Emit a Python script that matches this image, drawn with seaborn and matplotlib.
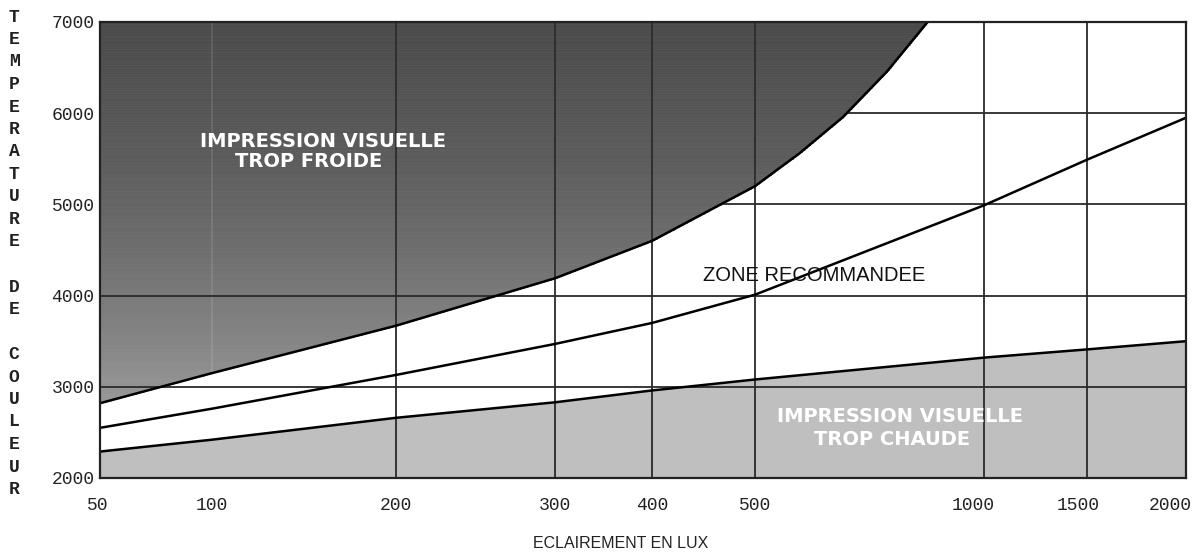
import numpy as np
import matplotlib
matplotlib.use("Agg")
import matplotlib.pyplot as plt
import seaborn as sns
from matplotlib.transforms import ScaledTranslation

# ---------------- data ----------------
lux_ticks = [50, 100, 200, 300, 400, 500, 1000, 1500, 2000]
lux_tick_labels = ["50", "100", "200", "300", "400", "500", "1000", "1500", "2000"]
kelvin_ticks = [2000, 3000, 4000, 5000, 6000, 7000]
kelvin_tick_labels = ["2000", "3000", "4000", "5000", "6000", "7000"]

# lower limit (below: "trop chaude")
warm_lux = [50, 100, 200, 300, 400, 500, 1000, 1500, 2000]
warm_k = [2290, 2420, 2660, 2830, 2960, 3080, 3320, 3410, 3500]
# middle line
mid_lux = [50, 100, 200, 300, 400, 500, 1000, 1500, 2000]
mid_k = [2550, 2760, 3130, 3470, 3700, 4010, 4990, 5490, 5950]
# upper limit (above: "trop froide")
cold_lux = [50, 100, 200, 300, 400, 500, 572, 653, 746, 843]
cold_k = [2820, 3150, 3670, 4190, 4600, 5200, 5560, 5960, 6460, 7000]

# the printed lux axis is not a regular scale: relative spacing of its ticks
axis_stops = [0, 112, 296, 455, 552, 655, 884, 987, 1086]

# ---------------- scale ----------------
LOG_T = np.log10(lux_ticks)
STOPS = np.asarray(axis_stops, float)


def _interp(v, xp, fp):
    v = np.asarray(v, float)
    out = np.interp(v, xp, fp)
    lo_slope = (fp[1] - fp[0]) / (xp[1] - xp[0])
    hi_slope = (fp[-1] - fp[-2]) / (xp[-1] - xp[-2])
    out = np.where(v < xp[0], fp[0] + (v - xp[0]) * lo_slope, out)
    out = np.where(v > xp[-1], fp[-1] + (v - xp[-1]) * hi_slope, out)
    return out


def fwd(x):
    x = np.asarray(x, float)
    with np.errstate(divide="ignore", invalid="ignore"):
        lx = np.log10(np.where(x > 0, x, 1e-9))
    return _interp(lx, LOG_T, STOPS)


def inv(p):
    return 10 ** _interp(p, STOPS, LOG_T)


# ---------------- fonts ----------------
sans = "Liberation Sans"
mono = "Liberation Mono"
boldf = "DejaVu Sans"

sns.set_style("white")
plt.rcParams["font.family"] = ["DejaVu Sans"]

fig = plt.figure(figsize=(12.02, 5.55), dpi=100)
W, H = 1202, 555
ax = fig.add_axes([100 / W, 1 - 478 / H, 1086 / W, (478 - 22) / H])
ax.set_xscale("function", functions=(fwd, inv))
ax.set_xlim(50, 2000)
ax.set_ylim(2000, 7000)

# dense curves for the fills (piecewise linear in the axis' own scale)
x_d = inv(np.linspace(0, 1086, 1200))
cold_d = np.interp(np.log10(x_d), np.log10(cold_lux), cold_k)
warm_d = np.interp(np.log10(x_d), np.log10(warm_lux), warm_k)

# dark "trop froide" area with a vertical gradient
levels = np.linspace(2000, 7000, 201)
for y0, y1 in zip(levels[:-1], levels[1:]):
    mask = cold_d < y1
    if not mask.any():
        continue
    lower = np.clip(cold_d, y0, y1)
    t = 0.5 * (y0 + y1)
    g = float(np.interp(t, [2800, 3500, 4500, 5500, 7000], [0.60, 0.52, 0.43, 0.36, 0.29]))
    ax.fill_between(x_d, lower, y1, where=mask, interpolate=True,
                    facecolor=(g, g, g), edgecolor=(g, g, g), linewidth=0.5, zorder=2)

# light "trop chaude" area
ax.fill_between(x_d, 2000, warm_d, facecolor="#bfbfbf", edgecolor="none", zorder=2)

# grid-like reference lines
for yv in [5000, 6000]:
    ax.axhline(yv, color="#2a2a2a", lw=1.3, zorder=1)
for yv in [3000, 4000]:
    ax.axhline(yv, color="#2a2a2a", lw=1.3, zorder=3)
for xv in [200, 300, 400, 500, 1000, 1500]:
    ax.axvline(xv, color="#2a2a2a", lw=1.3, zorder=3)
# faint lighter traces of the grid inside the dark zone
for xv in [100, 200, 300, 400, 500]:
    ytop = float(np.interp(np.log10(xv), np.log10(cold_lux), cold_k))
    ax.plot([xv, xv], [ytop, 7000], color="white", alpha=0.12, lw=1.2, zorder=2.5)

# curves
sns.lineplot(x=warm_lux, y=warm_k, color="black", lw=1.8, ax=ax, zorder=4)
sns.lineplot(x=mid_lux, y=mid_k, color="black", lw=1.8, ax=ax, zorder=4)
sns.lineplot(x=cold_lux, y=cold_k, color="black", lw=1.8, ax=ax, zorder=4)

# labels in the zones
bold_kw = dict(color="white", fontsize=14, fontweight="bold", family=boldf,
               ha="center", va="center", zorder=5)
ax.text(152, 5690, "IMPRESSION VISUELLE", **bold_kw)
ax.text(144, 5470, "TROP FROIDE", **bold_kw)
ax.text(776, 2674, "IMPRESSION VISUELLE", **bold_kw)
ax.text(757, 2420, "TROP CHAUDE", **bold_kw)
ax.text(598, 4222, "ZONE RECOMMANDEE", color="#111111", fontsize=14.5,
        family=sans, ha="center", va="center", zorder=5)

# ticks
ax.set_xticks(lux_ticks)
ax.set_xticklabels(lux_tick_labels, family=mono, fontsize=13, color="#222222")
ax.set_yticks(kelvin_ticks)
ax.set_yticklabels(kelvin_tick_labels, family=mono, fontsize=13, color="#222222")
ax.xaxis.set_minor_locator(matplotlib.ticker.NullLocator())
ax.tick_params(axis="x", length=0, pad=14)
ax.tick_params(axis="y", length=0, pad=4)
ax.grid(False)

label_shift = {"50": -2, "1000": -11, "1500": -9, "2000": -16}
for lab in ax.get_xticklabels():
    dx = label_shift.get(lab.get_text(), 0)
    if dx:
        lab.set_transform(lab.get_transform() + ScaledTranslation(dx / 100, 0, fig.dpi_scale_trans))

ax.set_xlabel("ECLAIREMENT EN LUX", family=sans, fontsize=11.5, color="#222222")
ax.xaxis.set_label_coords((621 - 100) / 1086, -(543 - 478) / 456)
ax.xaxis.label.set_va("center")

for s in ax.spines.values():
    s.set_visible(True)
    s.set_color("#222222")
    s.set_linewidth(1.6)
    s.set_zorder(6)

# vertical stacked y label
ylabel_slots = list("TEMPERATURE") + [""] + list("DE") + [""] + list("COULEUR")
for i, ch in enumerate(ylabel_slots):
    if not ch:
        continue
    ypx = 17 + i * 22.5
    fig.text(14 / W, 1 - ypx / H, ch, family=mono, fontsize=13, fontweight="bold",
             color="#222222", ha="center", va="center")

fig.savefig("out.png", dpi=100, facecolor="white")
